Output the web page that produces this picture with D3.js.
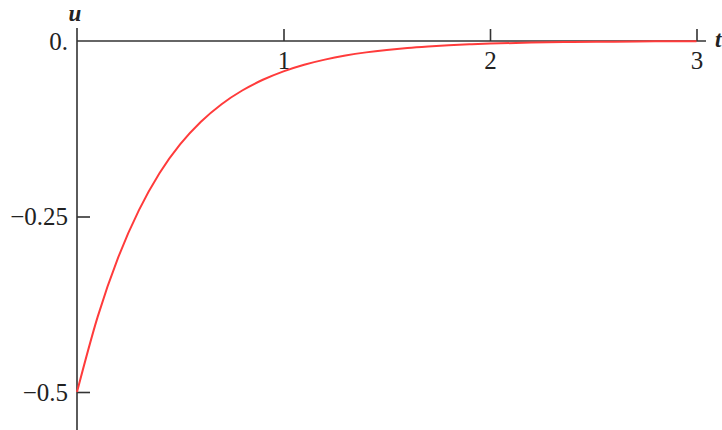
<!DOCTYPE html>
<html>
<head>
<meta charset="utf-8">
<script src="https://cdn.jsdelivr.net/npm/d3@7"></script>
<style>
  body { margin: 0; background: #fff; }
  svg { display: block; }
</style>
</head>
<body>
<div id="chart"></div>
<script>
// DATA
const tValues = [0, 0.1, 0.2, 0.3, 0.4, 0.5, 0.6, 0.7, 0.8, 0.9, 1.0, 1.1, 1.2, 1.3, 1.4,
  1.5, 1.6, 1.7, 1.8, 1.9, 2.0, 2.2, 2.4, 2.6, 2.8, 3.0]
const uValues = [-0.5, -0.393, -0.308, -0.241, -0.188, -0.147, -0.115, -0.090, -0.0705, -0.0552,
  -0.0432, -0.0338, -0.0265, -0.0207, -0.0162, -0.0127, -0.0099, -0.0078, -0.0061, -0.0048,
  -0.0037, -0.0023, -0.0014, -0.0009, -0.0005, -0.0003]

const xTicks = [1, 2, 3]
const xTickLabels = ["1", "2", "3"]
const yTicks = [-0.5, -0.25, 0]
const yTickLabels = ["\u22120.5", "\u22120.25", "0."]

const data = tValues.map((t, i) => ({ t: t, u: uValues[i] }))

const width = 722
const height = 430

const xScale = d3.scaleLinear()
  .domain([0, 3])
  .range([77, 696.5])

const yScale = d3.scaleLinear()
  .domain([-0.5, 0])
  .range([392, 41])

const svg = d3.select("#chart")
  .append("svg")
  .attr("width", width)
  .attr("height", height)

const axisColor = "#333"
const font = "'Liberation Serif', 'Times New Roman', serif"

// X AXIS (ticks up, labels below)
const xAxis = d3.axisTop(xScale)
  .tickValues(xTicks)
  .tickFormat((d, i) => xTickLabels[i])
  .tickSize(12)
  .tickSizeOuter(0)

const gx = svg.append("g")
  .attr("transform", `translate(0, ${yScale(0)})`)
  .call(xAxis)
gx.select(".domain").remove()
gx.selectAll(".tick line").attr("stroke", axisColor).attr("stroke-width", 1.6)
gx.selectAll(".tick text")
  .attr("y", 28)
  .attr("dy", 0)
  .attr("fill", "#222")
  .attr("font-family", font)
  .attr("font-size", 25)

svg.append("line")
  .attr("x1", xScale(0)).attr("x2", 706)
  .attr("y1", yScale(0)).attr("y2", yScale(0))
  .attr("stroke", axisColor).attr("stroke-width", 1.6)

// Y AXIS (ticks right, labels left)
const yAxis = d3.axisRight(yScale)
  .tickValues(yTicks)
  .tickFormat((d, i) => yTickLabels[i])
  .tickSize(13)
  .tickSizeOuter(0)

const gy = svg.append("g")
  .attr("transform", `translate(${xScale(0)}, 0)`)
  .call(yAxis)
gy.select(".domain").remove()
gy.selectAll(".tick line").attr("stroke", axisColor).attr("stroke-width", 1.6)
gy.selectAll(".tick").filter(d => d === 0).select("line").remove()
gy.selectAll(".tick text")
  .attr("x", -9)
  .attr("dy", "0.32em")
  .attr("text-anchor", "end")
  .attr("fill", "#222")
  .attr("font-family", font)
  .attr("font-size", 25)

svg.append("line")
  .attr("x1", xScale(0)).attr("x2", xScale(0))
  .attr("y1", 28).attr("y2", height)
  .attr("stroke", axisColor).attr("stroke-width", 1.6)

// AXIS LABELS
svg.append("text")
  .text("u")
  .attr("x", 75)
  .attr("y", 21)
  .attr("text-anchor", "middle")
  .attr("font-family", font)
  .attr("font-style", "italic")
  .attr("font-weight", "bold")
  .attr("font-size", 23)
  .attr("fill", "#222")

svg.append("text")
  .text("t")
  .attr("x", 715)
  .attr("y", 47)
  .attr("font-family", font)
  .attr("font-style", "italic")
  .attr("font-weight", "bold")
  .attr("font-size", 23)
  .attr("fill", "#222")

// DRAW CURVE
const line = d3.line()
  .x(d => xScale(d.t))
  .y(d => yScale(d.u))
  .curve(d3.curveMonotoneX)

svg.append("path")
  .datum(data)
  .attr("d", line)
  .attr("fill", "none")
  .attr("stroke", "#ff3b3b")
  .attr("stroke-width", 2)
</script>
</body>
</html>
